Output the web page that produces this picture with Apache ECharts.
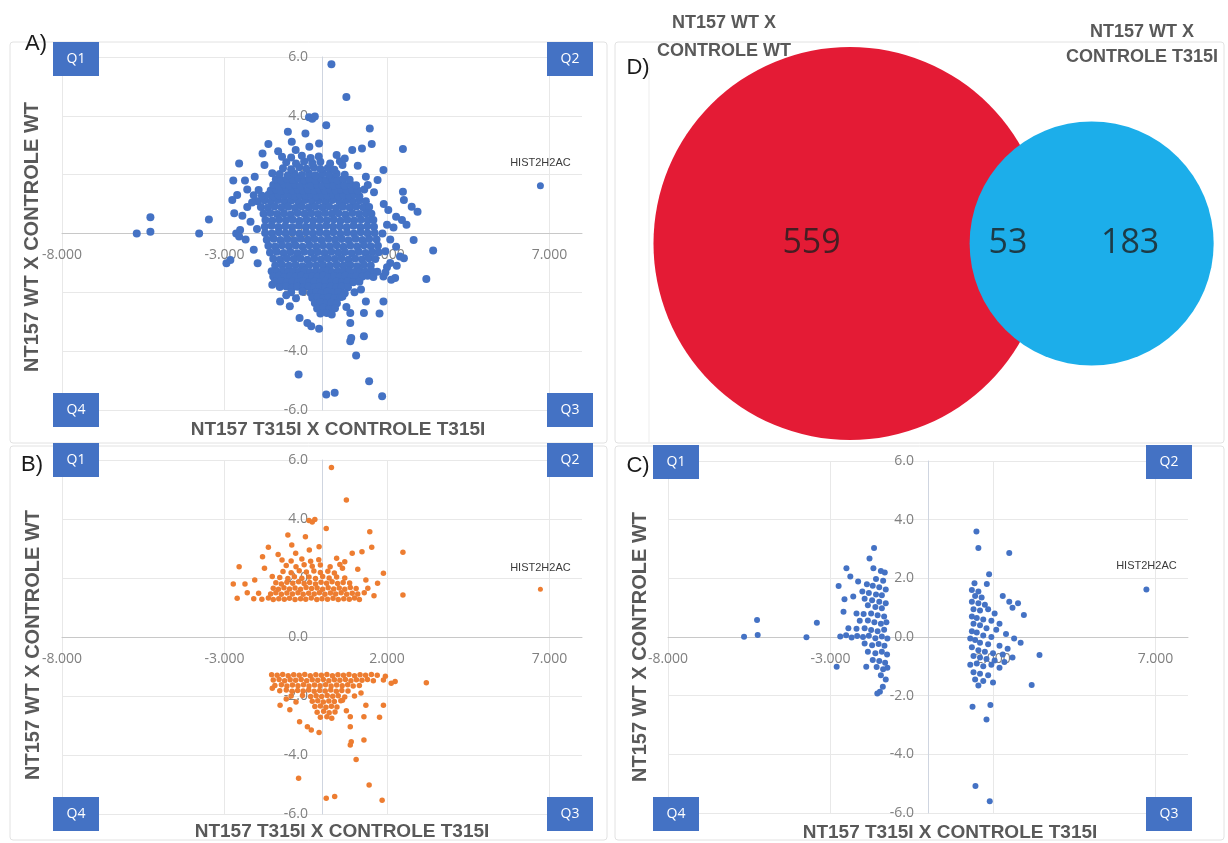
<!DOCTYPE html>
<html>
<head>
<meta charset="utf-8">
<script src="https://cdn.jsdelivr.net/npm/echarts@6/dist/echarts.min.js"></script>
<style>
html,body{margin:0;padding:0;background:#fff}
#chart{width:1228px;height:843px}
</style>
</head>
<body>
<div id="chart"></div>
<script>
// ---------------- data ----------------
const axisTitleX = 'NT157 T315I X CONTROLE T315I';
const axisTitleY = 'NT157 WT X CONTROLE WT';
const panelNames = ['A)', 'B)', 'C)', 'D)'];
const quadrantNames = ['Q1', 'Q2', 'Q3', 'Q4'];
const xRange = [-8, 8];
const xStep = 5;
const yRange = [-6, 6];
const yStep = 2;

const labeledGene = 'HIST2H2AC';
const labeledGenePoint = [6.72, 1.62];

// Venn: set titles (two lines each) and region counts [left only, shared, right only]
const vennSetLeft = ['NT157 WT X', 'CONTROLE WT'];
const vennSetRight = ['NT157 WT X', 'CONTROLE T315I'];
const vennRegionCounts = [559, 53, 183];

// genes up-regulated in WT (log fold change >= 1.25), x = T315I fold change
const bandUp = [
  [-2.1,1.3],[-1.85,1.28],[-1.65,1.32],[-1.5,1.27],[-1.33,1.3],[-1.16,1.28],[-1.0,1.31],[-0.83,1.27],[-0.66,1.3],[-0.5,1.28],
  [-0.33,1.32],[-0.16,1.27],[0.0,1.3],[0.17,1.28],[0.34,1.31],[0.5,1.27],[0.67,1.3],[0.84,1.28],[1.0,1.32],[1.15,1.27],
  [-1.95,1.48],[-1.58,1.46],[-1.42,1.5],[-1.25,1.45],[-1.08,1.49],[-0.91,1.46],[-0.74,1.5],[-0.58,1.45],[-0.41,1.48],[-0.24,1.46],
  [-0.08,1.5],[0.09,1.45],[0.26,1.49],[0.42,1.46],[0.59,1.5],[0.76,1.45],[0.93,1.48],[1.1,1.46],[1.3,1.5],
  [-1.5,1.65],[-1.34,1.62],[-1.17,1.67],[-1.0,1.63],[-0.83,1.66],[-0.66,1.62],[-0.49,1.68],[-0.32,1.64],[-0.15,1.66],[0.02,1.62],
  [0.19,1.67],[0.36,1.63],[0.53,1.66],[0.7,1.62],[0.87,1.68],[1.05,1.64],
  [-1.42,1.84],[-1.25,1.8],[-1.08,1.86],[-0.9,1.82],[-0.72,1.87],[-0.55,1.81],[-0.38,1.85],[-0.2,1.8],[-0.03,1.86],[0.14,1.82],
  [0.31,1.87],[0.48,1.81],[0.65,1.85],[0.85,1.83],
  [-1.3,2.02],[-1.05,1.98],[-0.85,2.04],[-0.62,1.99],[-0.4,2.03],[-0.2,1.98],[0.02,2.05],[0.22,2.0],[0.45,2.03],[0.7,2.0],
  [-1.2,2.22],[-0.95,2.18],[-0.7,2.25],[-0.48,2.2],[-0.25,2.24],[-0.05,2.19],[0.18,2.23],[0.38,2.17],
  [-1.1,2.42],[-0.8,2.38],[-0.55,2.45],[-0.3,2.4],[-0.05,2.44],[0.25,2.38],[0.55,2.46],
  [-1.23,2.61],[-0.95,2.58],[-0.62,2.64],[-0.35,2.57],[-0.1,2.62],[0.45,2.67],
  [0.29,5.75],[0.75,4.64],[-0.4,3.95],[-0.3,3.9],[-0.22,3.98],[0.13,3.68],[1.47,3.57],[-1.05,3.46],[-0.51,3.4],[1.53,3.04],
  [-1.65,3.04],[2.49,2.87],[0.93,2.84],[1.23,2.89],[-2.55,2.38],[1.89,2.16],[-2.73,1.8],[2.49,1.42],[-2.61,1.31],[-2.37,1.8],
  [-2.07,1.93],[-1.83,2.72],[-1.77,2.33],[-1.53,2.05],[1.71,1.82],[1.41,1.65],[1.35,1.93],[0.63,2.33],[-0.81,2.84],[-0.93,3.12],
  [-0.39,2.95],[-0.09,3.06],[0.7,2.55],[1.1,2.3],[-1.35,2.8],[1.6,1.4],[-2.3,1.5]
];

// genes down-regulated in WT (log fold change <= -1.25)
const bandDown = [
  [-1.55,-1.28],[-1.38,-1.3],[-1.21,-1.27],[-1.04,-1.31],[-0.87,-1.28],[-0.7,-1.3],[-0.53,-1.27],[-0.36,-1.31],[-0.19,-1.28],[-0.02,-1.3],
  [0.15,-1.27],[0.32,-1.31],[0.49,-1.28],[0.66,-1.3],[0.83,-1.27],[1.0,-1.31],[1.17,-1.28],[1.34,-1.3],[1.52,-1.27],[1.7,-1.3],[1.95,-1.33],
  [-1.5,-1.46],[-1.32,-1.44],[-1.15,-1.48],[-0.98,-1.45],[-0.81,-1.47],[-0.64,-1.44],[-0.47,-1.48],[-0.3,-1.45],[-0.13,-1.47],[0.04,-1.44],
  [0.21,-1.48],[0.38,-1.45],[0.55,-1.47],[0.72,-1.44],[0.89,-1.48],[1.06,-1.45],[1.23,-1.47],[1.4,-1.44],[1.58,-1.48],
  [-1.45,-1.64],[-1.25,-1.62],[-1.08,-1.66],[-0.91,-1.63],[-0.74,-1.65],[-0.57,-1.62],[-0.4,-1.66],[-0.23,-1.63],[-0.06,-1.65],[0.11,-1.62],
  [0.28,-1.66],[0.45,-1.63],[0.62,-1.65],[0.79,-1.62],[0.96,-1.66],[1.15,-1.64],
  [-1.3,-1.82],[-1.1,-1.8],[-0.92,-1.84],[-0.75,-1.81],[-0.58,-1.83],[-0.41,-1.8],[-0.24,-1.84],[-0.07,-1.81],[0.1,-1.83],[0.27,-1.8],
  [0.44,-1.84],[0.61,-1.81],[0.8,-1.83],
  [-0.95,-2.0],[-0.6,-1.98],[-0.35,-2.02],[-0.18,-1.99],[-0.01,-2.02],[0.16,-1.98],[0.33,-2.01],[0.5,-1.99],[0.7,-2.03],
  [-0.3,-2.18],[-0.13,-2.16],[0.04,-2.2],[0.21,-2.17],[0.38,-2.19],[0.58,-2.16],
  [-0.22,-2.36],[-0.05,-2.34],[0.12,-2.38],[0.29,-2.35],[0.46,-2.37],
  [-0.15,-2.55],[0.05,-2.52],[0.22,-2.57],[0.4,-2.54],
  [-0.05,-2.72],[0.15,-2.7],[0.3,-2.75],
  [3.21,-1.55],[2.25,-1.51],[2.13,-1.57],[1.89,-1.46],[1.89,-2.31],[1.35,-2.31],[1.77,-2.72],[1.29,-2.7],[0.87,-2.7],[0.87,-3.04],
  [1.29,-3.49],[0.87,-3.66],[0.9,-3.55],[1.05,-4.15],[-0.72,-4.79],[1.45,-5.02],[0.13,-5.47],[0.39,-5.41],[1.85,-5.53],[-0.33,-3.15],
  [-0.09,-3.24],[-0.45,-3.04],[-0.69,-2.87],[-1.29,-2.31],[-0.99,-2.47],[-1.53,-1.74],[0.63,-2.14],[-1.1,-2.1],[1.0,-2.0],
  [1.2,-1.9],[-0.8,-2.2],[0.75,-2.5]
];

// remaining genes of the WT comparison (|log fold change| < 1.25)
const middleA = [
  [-1.98,1.1],[-1.77,1.13],[-1.57,1.09],[-1.36,1.14],[-1.15,1.1],[-0.94,1.12],[-0.73,1.09],[-0.52,1.14],[-0.31,1.1],[-0.1,1.13],
  [0.11,1.09],[0.32,1.14],[0.53,1.1],[0.74,1.12],[0.95,1.09],[1.16,1.13],[1.35,1.1],
  [-1.88,0.9],[-1.67,0.88],[-1.46,0.92],[-1.25,0.89],[-1.04,0.91],[-0.83,0.87],[-0.62,0.92],[-0.41,0.88],[-0.2,0.91],[0.01,0.89],
  [0.22,0.92],[0.43,0.87],[0.64,0.91],[0.85,0.88],[1.06,0.92],[1.27,0.89],[1.45,0.9],
  [-1.8,0.67],[-1.59,0.7],[-1.38,0.66],[-1.17,0.69],[-0.96,0.65],[-0.75,0.7],[-0.54,0.67],[-0.33,0.69],[-0.12,0.66],[0.09,0.7],
  [0.3,0.67],[0.51,0.69],[0.72,0.65],[0.93,0.7],[1.14,0.66],[1.35,0.69],[1.52,0.67],
  [-1.74,0.46],[-1.53,0.44],[-1.32,0.48],[-1.11,0.45],[-0.9,0.47],[-0.69,0.43],[-0.48,0.48],[-0.27,0.44],[-0.06,0.47],[0.15,0.45],
  [0.36,0.48],[0.57,0.43],[0.78,0.47],[0.99,0.44],[1.2,0.48],[1.41,0.45],[1.58,0.46],
  [-1.76,0.23],[-1.55,0.26],[-1.34,0.22],[-1.13,0.25],[-0.92,0.21],[-0.71,0.26],[-0.5,0.23],[-0.29,0.25],[-0.08,0.22],[0.13,0.26],
  [0.34,0.23],[0.55,0.25],[0.76,0.21],[0.97,0.26],[1.18,0.22],[1.39,0.25],[1.6,0.23],
  [-1.75,0.02],[-1.54,0.0],[-1.33,0.04],[-1.12,0.01],[-0.91,0.03],[-0.7,-0.01],[-0.49,0.04],[-0.28,0.0],[-0.07,0.03],[0.14,0.01],
  [0.35,0.04],[0.56,-0.01],[0.77,0.03],[0.98,0.0],[1.19,0.04],[1.4,0.01],[1.62,0.02],
  [-1.7,-0.21],[-1.49,-0.18],[-1.28,-0.22],[-1.07,-0.19],[-0.86,-0.23],[-0.65,-0.18],[-0.44,-0.21],[-0.23,-0.19],[-0.02,-0.22],[0.19,-0.18],
  [0.4,-0.21],[0.61,-0.19],[0.82,-0.23],[1.03,-0.18],[1.24,-0.22],[1.45,-0.19],[1.68,-0.2],
  [-1.65,-0.42],[-1.44,-0.44],[-1.23,-0.4],[-1.02,-0.43],[-0.81,-0.41],[-0.6,-0.45],[-0.39,-0.4],[-0.18,-0.44],[0.03,-0.41],[0.24,-0.43],
  [0.45,-0.4],[0.66,-0.45],[0.87,-0.41],[1.08,-0.44],[1.29,-0.4],[1.5,-0.43],[1.72,-0.42],
  [-1.6,-0.65],[-1.39,-0.62],[-1.18,-0.66],[-0.97,-0.63],[-0.76,-0.67],[-0.55,-0.62],[-0.34,-0.65],[-0.13,-0.63],[0.08,-0.66],[0.29,-0.62],
  [0.5,-0.65],[0.71,-0.63],[0.92,-0.67],[1.13,-0.62],[1.34,-0.66],[1.55,-0.63],[1.74,-0.64],
  [-1.5,-0.86],[-1.29,-0.88],[-1.08,-0.84],[-0.87,-0.87],[-0.66,-0.85],[-0.45,-0.89],[-0.24,-0.84],[-0.03,-0.88],[0.18,-0.85],[0.39,-0.87],
  [0.6,-0.84],[0.81,-0.89],[1.02,-0.85],[1.23,-0.88],[1.44,-0.84],[1.64,-0.87],
  [-1.44,-1.09],[-1.23,-1.06],[-1.02,-1.1],[-0.81,-1.07],[-0.6,-1.11],[-0.39,-1.06],[-0.18,-1.09],[0.03,-1.07],[0.24,-1.1],[0.45,-1.06],
  [0.66,-1.09],[0.87,-1.07],[1.08,-1.11],[1.29,-1.06],[1.5,-1.09],
  [-5.7,0.0],[-5.28,0.06],[-5.28,0.55],[-3.78,0.0],[-3.48,0.48],[-2.64,0.0],[-2.52,0.12],[-1.98,-1.01],[-2.94,-1.01],[-2.82,-0.9],
  [-2.76,1.14],[-2.7,0.69],[-2.3,0.9],[-2.2,0.4],[-2.35,-0.2],[-2.1,-0.55],[-2.45,0.6],[-2.15,1.05],[-2.55,-0.1],[-2.0,0.15],
  [3.42,-0.58],[2.94,0.74],[2.76,0.91],[2.82,-0.22],[2.46,0.46],[2.28,0.57],[2.04,0.8],[2.28,-0.45],[2.4,-0.78],[2.52,-0.84],
  [1.86,0.0],[2.52,1.14],[2.1,-0.2],[2.0,0.3],[2.2,0.2],[1.95,-0.6],[2.1,-1.0],[1.9,1.0],[2.0,-1.15],[2.3,-1.1],[2.6,0.3]
];

// genes of the T315I comparison, panel C
const clusterC = [
  [-5.66,0.01],[-5.24,0.07],[-5.26,0.58],[-3.74,-0.01],[-3.42,0.49],[-2.81,-1.01],
  [-1.66,3.03],[-1.8,2.68],[-1.68,2.34],[-1.45,2.25],[-1.33,2.2],[-2.51,2.34],[-2.39,2.06],[-2.15,1.89],[-2.75,1.74],[-1.6,1.98],
  [-1.38,1.92],[-1.88,1.8],[-1.7,1.75],[-1.5,1.7],[-1.3,1.62],[-2.02,1.55],[-1.82,1.5],[-1.6,1.45],[-1.42,1.42],[-2.57,1.29],
  [-2.3,1.38],[-1.95,1.3],[-1.72,1.25],[-1.5,1.2],[-1.3,1.15],[-1.85,1.08],[-1.62,1.02],[-1.42,0.98],[-2.6,0.86],[-2.2,0.8],
  [-1.98,0.78],[-1.75,0.8],[-1.55,0.74],[-1.35,0.7],[-2.1,0.55],[-1.85,0.56],[-1.65,0.5],[-1.45,0.45],[-1.28,0.5],[-2.45,0.3],
  [-2.2,0.28],[-1.95,0.3],[-1.75,0.24],[-1.55,0.2],[-1.35,0.25],[-2.7,0.02],[-2.52,0.06],[-2.35,-0.02],[-2.18,0.03],[-2.0,0.0],
  [-1.82,0.04],[-1.62,-0.04],[-1.42,0.02],[-1.25,-0.05],[-1.95,-0.22],[-1.72,-0.28],[-1.52,-0.24],[-1.34,-0.3],[-1.85,-0.5],[-1.62,-0.55],
  [-1.42,-0.5],[-1.26,-0.6],[-1.7,-0.78],[-1.5,-0.82],[-1.32,-0.88],[-1.9,-1.01],[-1.58,-1.02],[-1.38,-1.1],[-1.25,-1.05],[-1.45,-1.3],
  [-1.3,-1.45],[-1.39,-1.7],[-1.48,-1.87],[-1.56,-1.93],
  [1.49,3.6],[1.55,3.03],[2.5,2.86],[1.88,2.14],[1.43,1.83],[1.81,1.81],[1.35,1.6],[1.55,1.55],[1.45,1.4],[1.65,1.35],
  [1.35,1.2],[1.55,1.15],[1.75,1.1],[2.3,1.4],[2.5,1.2],[2.77,1.15],[2.95,0.75],[2.6,1.0],[1.4,0.95],[1.6,0.9],
  [1.85,0.95],[2.05,0.8],[1.35,0.7],[1.5,0.65],[1.7,0.6],[1.95,0.55],[2.2,0.45],[1.4,0.45],[1.6,0.4],[1.8,0.3],
  [2.1,0.25],[2.4,0.1],[1.35,0.2],[1.5,0.15],[1.7,0.05],[1.95,0.0],[2.65,-0.05],[2.85,-0.2],[1.3,-0.05],[1.45,-0.1],
  [1.6,-0.2],[1.85,-0.25],[2.2,-0.3],[2.45,-0.4],[1.35,-0.35],[1.55,-0.45],[1.75,-0.5],[2.0,-0.55],[2.3,-0.6],[1.4,-0.65],
  [1.6,-0.7],[1.8,-0.75],[2.05,-0.8],[2.35,-0.85],[2.6,-0.7],[3.43,-0.61],[1.3,-0.95],[1.5,-0.9],[1.7,-1.0],[1.95,-0.95],
  [2.2,-1.05],[1.4,-1.2],[1.6,-1.25],[1.85,-1.3],[1.45,-1.45],[1.7,-1.5],[2.0,-1.55],[1.55,-1.65],[3.19,-1.64],[1.37,-2.38],
  [1.92,-2.32],[1.8,-2.81],[1.46,-5.08],[1.9,-5.6]
];

// ---------------- layout ----------------
const BLUE = '#4472C4';
const ORANGE = '#ED7D31';
const TITLE_GRAY = '#595959';
const LABEL_GRAY = '#808080';

const scatterGrids = [
  { left: 62, top: 57, width: 520, height: 353 },   // A
  { left: 62, top: 460, width: 520, height: 354 },  // B
  { left: 668, top: 461, width: 520, height: 352 }  // C
];
const vennGrid = { left: 615, top: 0, width: 613, height: 487 };
const vennScale = 14.08;          // pixels per radius unit
const vennLeftCenterPx = [850, 243.5];

// Venn geometry: circle areas follow the set sizes, overlap area follows the shared count
const leftTotal = vennRegionCounts[0] + vennRegionCounts[1];
const rightTotal = vennRegionCounts[1] + vennRegionCounts[2];
const r1 = Math.sqrt(leftTotal / Math.PI);
const r2 = Math.sqrt(rightTotal / Math.PI);
function lensArea(a, b, d) {
  if (d >= a + b) return 0;
  if (d <= Math.abs(a - b)) return Math.PI * Math.min(a, b) ** 2;
  const p = a * a * Math.acos((d * d + a * a - b * b) / (2 * d * a));
  const q = b * b * Math.acos((d * d + b * b - a * a) / (2 * d * b));
  const s = 0.5 * Math.sqrt((-d + a + b) * (d + a - b) * (d - a + b) * (d + a + b));
  return p + q - s;
}
let lo = Math.abs(r1 - r2), hi = r1 + r2;
for (let i = 0; i < 60; i++) {
  const mid = (lo + hi) / 2;
  if (lensArea(r1, r2, mid) > vennRegionCounts[1]) lo = mid; else hi = mid;
}
const dist = (lo + hi) / 2;
const regionLabelX = [
  (-r1 + (dist - r2)) / 2,
  ((dist - r2) + r1) / 2,
  (r1 + (dist + r2)) / 2
];

// ---------------- axes ----------------
// axes cross at the origin: each axis is shifted from the grid edge to the zero line
const xAxes = [];
const yAxes = [];
const labelFont = { color: LABEL_GRAY, fontSize: 14, fontFamily: 'Open Sans' };
const zeroFracX = (0 - xRange[0]) / (xRange[1] - xRange[0]);
const zeroFracY = (0 - yRange[0]) / (yRange[1] - yRange[0]);
scatterGrids.forEach((g, i) => {
  xAxes.push({
    gridIndex: i, type: 'value', min: xRange[0], max: xRange[1], interval: xStep,
    position: 'bottom', offset: -g.height * zeroFracY,
    axisLine: { show: true, onZero: false, lineStyle: { color: '#c8c8c8', width: 1 } },
    axisTick: { show: false },
    axisLabel: Object.assign({ margin: 15, showMaxLabel: false, formatter: v => v.toFixed(3) }, labelFont),
    splitLine: { show: true, showMaxLine: false, lineStyle: { color: '#e8e8e8', width: 1 } }
  });
  yAxes.push({
    gridIndex: i, type: 'value', min: yRange[0], max: yRange[1], interval: yStep,
    position: 'left', offset: -g.width * zeroFracX,
    axisLine: { show: true, onZero: false, lineStyle: { color: '#cfd5e0', width: 1 } },
    axisTick: { show: false },
    axisLabel: Object.assign({ margin: 14, formatter: v => v.toFixed(1) }, labelFont),
    splitLine: { show: true, lineStyle: { color: '#e8e8e8', width: 1 } }
  });
});
const vennXMin = -(vennLeftCenterPx[0] - vennGrid.left) / vennScale;
const vennYMax = (vennLeftCenterPx[1] - vennGrid.top) / vennScale;
xAxes.push({ gridIndex: 3, type: 'value', show: false, min: vennXMin, max: vennXMin + vennGrid.width / vennScale });
yAxes.push({ gridIndex: 3, type: 'value', show: false, max: vennYMax, min: vennYMax - vennGrid.height / vennScale });

// ---------------- series ----------------
const solid = { opacity: 1 };
function geneLabelSeries(ai, size, color, dist) {
  return {
    type: 'scatter', xAxisIndex: ai, yAxisIndex: ai, symbolSize: size,
    itemStyle: Object.assign({ color: color }, solid), silent: true,
    data: [{ name: labeledGene, value: labeledGenePoint }],
    label: { show: true, formatter: '{b}', position: 'top', distance: dist,
             fontSize: 11, fontFamily: 'Liberation Sans', color: '#3a3a3a' }
  };
}
const series = [
  { type: 'scatter', xAxisIndex: 0, yAxisIndex: 0, symbolSize: 8, silent: true,
    itemStyle: Object.assign({ color: BLUE }, solid), data: middleA.concat(bandUp, bandDown) },
  geneLabelSeries(0, 7, BLUE, 14),
  { type: 'scatter', xAxisIndex: 1, yAxisIndex: 1, symbolSize: 5.5, silent: true,
    itemStyle: Object.assign({ color: ORANGE }, solid), data: bandUp.concat(bandDown) },
  geneLabelSeries(1, 5, ORANGE, 13),
  { type: 'scatter', xAxisIndex: 2, yAxisIndex: 2, symbolSize: 6, silent: true,
    itemStyle: Object.assign({ color: BLUE }, solid), data: clusterC },
  geneLabelSeries(2, 6, BLUE, 15),
  // Venn circles
  { type: 'scatter', xAxisIndex: 3, yAxisIndex: 3, silent: true, z: 3,
    data: [
      { value: [0, 0], symbolSize: 2 * r1 * vennScale, itemStyle: { color: '#E41B35', opacity: 1 } },
      { value: [dist, 0], symbolSize: 2 * r2 * vennScale, itemStyle: { color: '#1CAEEA', opacity: 1 } }
    ] },
  // Venn region counts
  { type: 'scatter', xAxisIndex: 3, yAxisIndex: 3, silent: true, z: 4, symbolSize: 0,
    data: vennRegionCounts.map((c, i) => ({ value: [regionLabelX[i], 0], name: String(c) })),
    label: { show: true, position: 'inside', formatter: '{b}', fontSize: 34,
             fontFamily: 'Open Sans', color: '#1e1e1e' } }
];

// ---------------- decorations ----------------
const graphic = [];
// panel frames
[[10, 42, 597, 401], [615, 42, 609, 401], [10, 446, 597, 394], [615, 446, 609, 394]].forEach(b => {
  graphic.push({ type: 'rect', z: 0, shape: { x: b[0], y: b[1], width: b[2], height: b[3], r: 3 },
                 style: { fill: 'none', stroke: '#e2e2e2', lineWidth: 1 } });
});
graphic.push({ type: 'line', z: 0, shape: { x1: 649, y1: 60, x2: 649, y2: 443 },
               style: { stroke: '#ededed', lineWidth: 1 } });

// quadrant tags: [Q1, Q2, Q3, Q4] corners per scatter panel
const quadrantSpots = [
  [[53, 42], [547, 42], [547, 393], [53, 393]],
  [[53, 443], [547, 443], [547, 797], [53, 797]],
  [[653, 445], [1146, 445], [1146, 797], [653, 797]]
];
quadrantSpots.forEach(spots => {
  spots.forEach((p, i) => {
    graphic.push({ type: 'rect', z: 10, shape: { x: p[0], y: p[1], width: 46, height: 34 },
                   style: { fill: BLUE } });
    graphic.push({ type: 'text', z: 11, x: p[0] + 23, y: p[1] + 17,
                   style: { text: quadrantNames[i], fill: '#ffffff', font: '14px "Open Sans"',
                            textAlign: 'center', textVerticalAlign: 'middle' } });
  });
});

// panel letters
[[36, 44], [32, 465], [638, 466], [638, 68]].forEach((p, i) => {
  graphic.push({ type: 'text', z: 12, x: p[0], y: p[1],
                 style: { text: panelNames[i], fill: '#1a1a1a', font: '22px "Liberation Sans"',
                          textAlign: 'center', textVerticalAlign: 'middle' } });
});

// axis titles
const titleFont = 'bold 19px "Liberation Sans"';
[[[338, 430], [32, 237]], [[342, 832], [33, 645]], [[950, 833], [640, 647]]].forEach(t => {
  graphic.push({ type: 'text', z: 12, x: t[0][0], y: t[0][1],
                 style: { text: axisTitleX, fill: TITLE_GRAY, font: titleFont,
                          textAlign: 'center', textVerticalAlign: 'middle' } });
  graphic.push({ type: 'text', z: 12, x: t[1][0], y: t[1][1], rotation: Math.PI / 2,
                 style: { text: axisTitleY, fill: TITLE_GRAY, font: 'bold 20px "Liberation Sans"',
                          textAlign: 'center', textVerticalAlign: 'middle' } });
});

// Venn set titles
const vennTitleFont = 'bold 18px "Liberation Sans"';
[[vennSetLeft, 724, [23, 51]], [vennSetRight, 1142, [32, 57]]].forEach(v => {
  v[0].forEach((line, k) => {
    graphic.push({ type: 'text', z: 12, x: v[1], y: v[2][k],
                   style: { text: line, fill: TITLE_GRAY, font: vennTitleFont,
                            textAlign: 'center', textVerticalAlign: 'middle' } });
  });
});

const chart = echarts.init(document.getElementById('chart'), null, { renderer: 'canvas' });
chart.setOption({
  animation: false,
  backgroundColor: '#ffffff',
  grid: scatterGrids.concat([vennGrid]),
  xAxis: xAxes,
  yAxis: yAxes,
  series: series,
  graphic: graphic
});
</script>
</body>
</html>
